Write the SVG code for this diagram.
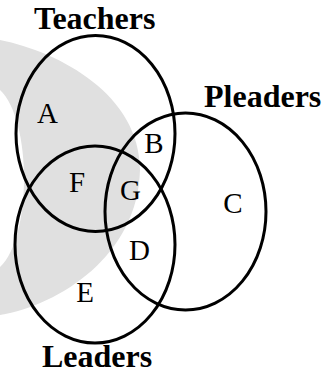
<svg xmlns="http://www.w3.org/2000/svg" width="323" height="373" viewBox="0 0 323 373">
<style>
.set{fill:none;stroke:#000;stroke-width:3}
.title{font-family:"Liberation Serif","Times New Roman",serif;font-weight:bold;font-size:32px;fill:#000}
.reg{font-family:"Liberation Serif","Times New Roman",serif;font-size:29px;fill:#000;text-anchor:middle}
</style>
<rect width="323" height="373" fill="#fff"/>
<path id="watermark" d="M0,40 C60,52 140,95 140,170 C138,255 60,305 0,315 L0,267 C32,237 32,120 0,90 Z" fill="#e0e0e0"/>
<g id="teachers">
<ellipse class="set" cx="95.5" cy="133.5" rx="79.5" ry="98"/>
<text class="title" x="34" y="29">Teachers</text>
</g>
<g id="pleaders">
<ellipse class="set" cx="185.5" cy="211.5" rx="80.5" ry="98.5"/>
<text class="title" x="204" y="107">Pleaders</text>
</g>
<g id="leaders">
<ellipse class="set" cx="95" cy="244.5" rx="80" ry="98.5"/>
<text class="title" x="42" y="367">Leaders</text>
</g>
<g id="regions">
<text class="reg" x="47.5" y="123">A</text>
<text class="reg" x="154" y="153">B</text>
<text class="reg" x="77" y="192">F</text>
<text class="reg" x="130.5" y="200">G</text>
<text class="reg" x="233" y="213">C</text>
<text class="reg" x="139.5" y="260">D</text>
<text class="reg" x="85" y="302">E</text>
</g>
</svg>
